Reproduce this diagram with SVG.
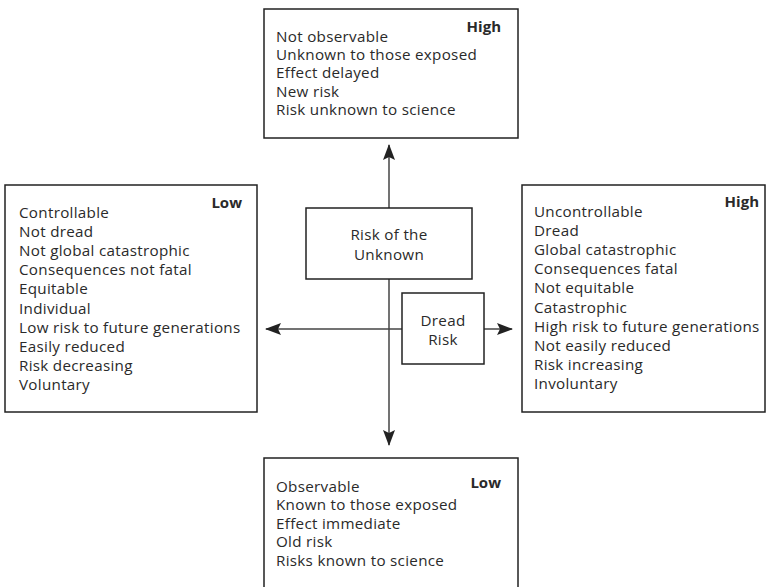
<svg xmlns="http://www.w3.org/2000/svg" width="767" height="587" viewBox="0 0 767 587">
<defs>
<style>
.box{fill:#fff;stroke:#222;stroke-width:1.5}
.t{font-family:"Open Sans","Liberation Sans",sans-serif;font-size:15.2px;letter-spacing:0.3px;fill:#2a2a2a}
.b{font-family:"Open Sans","Liberation Sans",sans-serif;font-size:15px;font-weight:bold;fill:#2a2a2a;text-anchor:end}
.c{text-anchor:middle}
.ln{stroke:#444;stroke-width:1.5;fill:none}
</style>
<marker id="ah" viewBox="0 0 16 12" refX="15" refY="6" markerWidth="16" markerHeight="12" markerUnits="userSpaceOnUse" orient="auto">
<path d="M0,0 L16,6 L0,12 L3,6 Z" fill="#222"/>
</marker>
</defs>
<rect width="767" height="587" fill="#fff"/>
<g id="connectors">
<line class="ln" x1="389" y1="208" x2="389" y2="145" marker-end="url(#ah)"/>
<line class="ln" x1="389" y1="279" x2="389" y2="445" marker-end="url(#ah)"/>
<line class="ln" x1="402" y1="329" x2="266" y2="329" marker-end="url(#ah)"/>
<line class="ln" x1="484" y1="329" x2="512" y2="329" marker-end="url(#ah)"/>
</g>
<g id="top">
<rect class="box" x="264" y="9" width="254" height="129"/>
<text class="b" x="501" y="32">High</text>
<text class="t" x="276" y="41.8">Not observable</text>
<text class="t" x="276" y="60.1">Unknown to those exposed</text>
<text class="t" x="276" y="78.4">Effect delayed</text>
<text class="t" x="276" y="96.7">New risk</text>
<text class="t" x="276" y="115">Risk unknown to science</text>
</g>
<g id="left">
<rect class="box" x="5" y="185" width="252" height="227"/>
<text class="b" x="242" y="208">Low</text>
<text class="t" x="19" y="218">Controllable</text>
<text class="t" x="19" y="237">Not dread</text>
<text class="t" x="19" y="256">Not global catastrophic</text>
<text class="t" x="19" y="275">Consequences not fatal</text>
<text class="t" x="19" y="294">Equitable</text>
<text class="t" x="19" y="313.5">Individual</text>
<text class="t" x="19" y="332.5">Low risk to future generations</text>
<text class="t" x="19" y="351.5">Easily reduced</text>
<text class="t" x="19" y="370.5">Risk decreasing</text>
<text class="t" x="19" y="390">Voluntary</text>
</g>
<g id="right">
<rect class="box" x="522" y="185" width="243" height="227"/>
<text class="b" x="759" y="207">High</text>
<text class="t" x="534" y="217">Uncontrollable</text>
<text class="t" x="534" y="236">Dread</text>
<text class="t" x="534" y="255">Global catastrophic</text>
<text class="t" x="534" y="274">Consequences fatal</text>
<text class="t" x="534" y="293">Not equitable</text>
<text class="t" x="534" y="312.5">Catastrophic</text>
<text class="t" x="534" y="331.5">High risk to future generations</text>
<text class="t" x="534" y="350.5">Not easily reduced</text>
<text class="t" x="534" y="369.5">Risk increasing</text>
<text class="t" x="534" y="389">Involuntary</text>
</g>
<g id="bottom">
<rect class="box" x="264" y="458" width="254" height="140"/>
<text class="b" x="501" y="488">Low</text>
<text class="t" x="276" y="491.5">Observable</text>
<text class="t" x="276" y="510">Known to those exposed</text>
<text class="t" x="276" y="528.5">Effect immediate</text>
<text class="t" x="276" y="547">Old risk</text>
<text class="t" x="276" y="565.5">Risks known to science</text>
</g>
<g id="unknown">
<rect class="box" x="306" y="208" width="166" height="71"/>
<text class="t c" x="389" y="240">Risk of the</text>
<text class="t c" x="389" y="260">Unknown</text>
</g>
<g id="dread">
<rect class="box" x="402" y="293" width="82" height="71"/>
<text class="t c" x="443" y="326">Dread</text>
<text class="t c" x="443" y="345">Risk</text>
</g>
</svg>
